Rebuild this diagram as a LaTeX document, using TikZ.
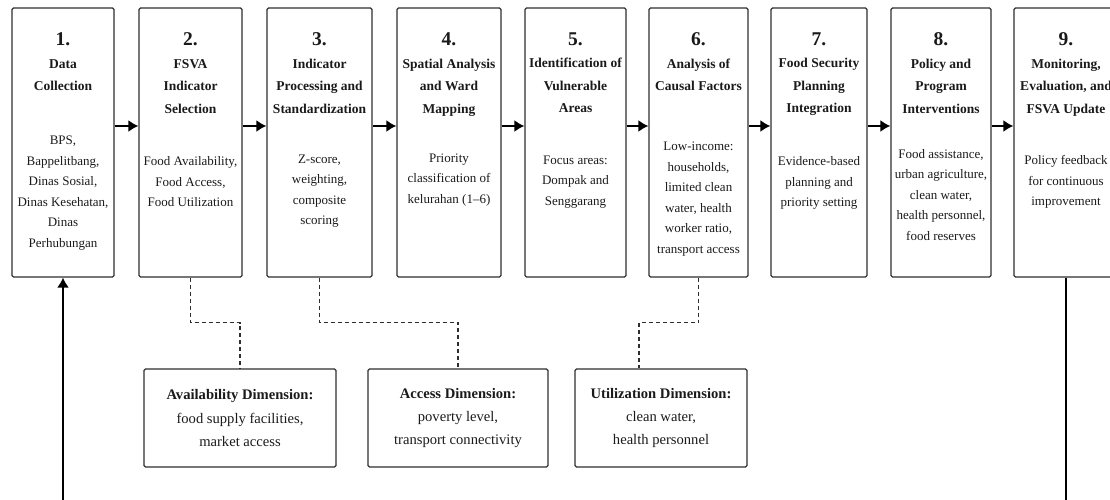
\documentclass[tikz,border=0pt]{standalone}
\usepackage{fontspec}
\setmainfont{Liberation Serif}
\usetikzlibrary{arrows.meta}
\definecolor{boxline}{HTML}{2E2E2E}
\definecolor{inktext}{HTML}{1A1A1A}
\newcommand\stepno[1]{{\fontsize{19.5}{19.5}\selectfont #1}}

\begin{document}
\begin{tikzpicture}[x=1pt, y=-1pt,
  stage/.style={draw=boxline, line width=1.3pt, rounded corners=1.5pt, minimum height=269pt, inner sep=0pt},
  head/.style={anchor=north, align=center, inner sep=0pt, text=inktext, font=\fontsize{13.5}{22.5}\selectfont\bfseries},
  body/.style={align=center, inner sep=0pt, text=inktext, font=\fontsize{13}{20.5}\selectfont},
  dim/.style={draw=boxline, line width=1.3pt, rounded corners=1.5pt, minimum height=98pt, align=center, text=inktext, font=\fontsize{14.6}{23.3}\selectfont},
  flow/.style={-{Latex[length=10pt,width=12pt]}, line width=1.8pt, draw=black},
  link/.style={dash pattern=on 4pt off 3pt, line width=1.3pt, draw=boxline}]
\useasboundingbox (0,0) rectangle (1110,499);

\node[stage, minimum width=102pt] (collect) at (63,142.5) {};
\node[head] (collecthead) at (63,32.5) {\stepno{1.}\\Data\\Collection};
\node[body] (collecttext) at (63,193) {BPS,\\Bappelitbang,\\Dinas Sosial,\\Dinas Kesehatan,\\Dinas\\Perhubungan};

\node[stage, minimum width=103pt] (select) at (190.5,142.5) {};
\node[head] (selecthead) at (190.5,32.5) {\stepno{2.}\\FSVA\\Indicator\\Selection};
\node[body] (selecttext) at (190.5,182) {Food Availability,\\Food Access,\\Food Utilization};

\node[stage, minimum width=105pt] (process) at (319.5,142.5) {};
\node[head] (processhead) at (319.5,32.5) {\stepno{3.}\\Indicator\\Processing and\\Standardization};
\node[body] (processtext) at (319.5,191) {Z-score,\\weighting,\\composite\\scoring};

\node[stage, minimum width=104pt] (spatial) at (449,142.5) {};
\node[head] (spatialhead) at (449,32.5) {\stepno{4.}\\Spatial Analysis\\and Ward\\Mapping};
\node[body] (spatialtext) at (449,180) {Priority\\classification of\\kelurahan (1--6)};

\node[stage, minimum width=101pt] (vulner) at (575.5,142.5) {};
\node[head] (vulnerhead) at (575.5,32.5) {\stepno{5.}\\Identification of\\Vulnerable\\Areas};
\node[body] (vulnertext) at (575.5,182) {Focus areas:\\Dompak and\\Senggarang};

\node[stage, minimum width=99pt] (causal) at (698.5,142.5) {};
\node[head] (causalhead) at (698.5,32.5) {\stepno{6.}\\Analysis of\\Causal Factors};
\node[body] (causaltext) at (698.5,199) {Low-income:\\households,\\limited clean\\water, health\\worker ratio,\\transport access};

\node[stage, minimum width=96pt] (plan) at (819,142.5) {};
\node[head] (planhead) at (819,32.5) {\stepno{7.}\\Food Security\\Planning\\Integration};
\node[body] (plantext) at (819,183) {Evidence-based\\planning and\\priority setting};

\node[stage, minimum width=100pt] (policy) at (941,142.5) {};
\node[head] (policyhead) at (941,32.5) {\stepno{8.}\\Policy and\\Program\\Interventions};
\node[body] (policytext) at (941,195) {Food assistance,\\urban agriculture,\\clean water,\\health personnel,\\food reserves};

\node[stage, minimum width=104pt] (monitor) at (1066,142.5) {};
\node[head] (monitorhead) at (1066,32.5) {\stepno{9.}\\Monitoring,\\Evaluation, and\\FSVA Update};
\node[body] (monitortext) at (1066,182) {Policy feedback\\for continuous\\improvement};

\node[dim, minimum width=192pt] (avail) at (240,418) {\textbf{Availability Dimension:}\\food supply facilities,\\market access};
\node[dim, minimum width=180pt] (access) at (458,418) {\textbf{Access Dimension:}\\poverty level,\\transport connectivity};
\node[dim, minimum width=172pt] (util) at (661,418) {\textbf{Utilization Dimension:}\\clean water,\\health personnel};

\draw[flow] ([yshift=16.5pt]collect.east) -- ([yshift=16.5pt]select.west);
\draw[flow] ([yshift=16.5pt]select.east) -- ([yshift=16.5pt]process.west);
\draw[flow] ([yshift=16.5pt]process.east) -- ([yshift=16.5pt]spatial.west);
\draw[flow] ([yshift=16.5pt]spatial.east) -- ([yshift=16.5pt]vulner.west);
\draw[flow] ([yshift=16.5pt]vulner.east) -- ([yshift=16.5pt]causal.west);
\draw[flow] ([yshift=16.5pt]causal.east) -- ([yshift=16.5pt]plan.west);
\draw[flow] ([yshift=16.5pt]plan.east) -- ([yshift=16.5pt]policy.west);
\draw[flow] ([yshift=16.5pt]policy.east) -- ([yshift=16.5pt]monitor.west);

\draw[link] (select.south) -- ++(0,45) -| (avail.north);
\draw[link] (process.south) -- ++(0,45) -| (access.north);
\draw[link] (causal.south) -- ++(0,45) -| ([xshift=-22pt]util.north);

\draw[flow] (monitor.south) -- ++(0,245) -| (collect.south);
\end{tikzpicture}
\end{document}
